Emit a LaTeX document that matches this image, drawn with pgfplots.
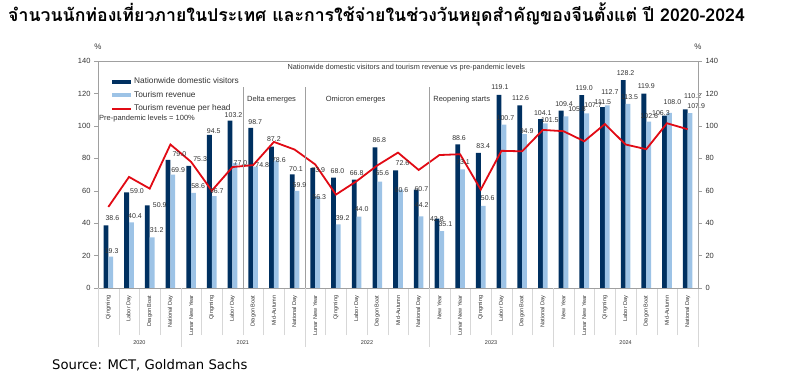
\documentclass[border=0pt]{standalone}
\usepackage{fontspec}
\setmainfont{Liberation Sans}
\newfontfamily\thaifont[Script=Thai]{Loma}
\newfontfamily\srcfont{DejaVu Sans}
\usepackage{pgfplots}
\usepackage{pgfplotstable}
\pgfplotsset{compat=1.18}
\definecolor{navy}{RGB}{0,48,96}
\definecolor{lightb}{RGB}{157,195,230}
\definecolor{redl}{RGB}{225,10,20}
\definecolor{axgray}{RGB}{160,160,160}
\definecolor{sepgray}{RGB}{215,215,215}
\definecolor{lbl}{RGB}{50,50,50}

% ddx, ddy, ldx, ldy: label offsets (pt) of the value labels
\pgfplotstableread{
x vis rev head ddx ddy ldx ldy
0 38.6 19.3 50.0 4 7 3.3 6
1 59.0 40.4 68.5 8 1 6 6.5
2 50.9 31.2 61.3 10 0 7 7
3 79.0 69.9 88.5 9 6 7.7 5
4 75.3 58.6 77.8 9 7 7 7
5 94.5 56.7 60.0 2 4 5 5
6 103.2 77.0 74.6 1 6 8 0
7 98.7 74.8 75.8 2 6 9 2
8 87.2 78.6 90.1 0 7.5 5 0
9 70.1 59.9 85.4 1.5 5 5 6
10 73.9 56.3 76.2 3 -2 4 0
11 68.0 39.2 57.6 1.5 7 6.7 6.5
12 66.8 44.0 65.9 0 6.7 5 7.5
13 86.8 65.6 75.6 2 7 5 8.5
14 72.6 60.6 83.5 4.5 7 3.5 0
15 60.7 44.2 72.8 2.7 0 3 11
16 42.8 35.1 82.0 -2.5 0 6 7
17 88.6 73.1 82.5 -1 6 3 7.5
18 83.4 50.6 60.7 2.5 7 7 8
19 119.1 100.7 84.6 -1.5 8 4 7
20 112.6 94.9 84.3 -1.5 7.5 4.5 3
21 104.1 101.5 97.5 0 6.6 7 3.5
22 109.4 105.8 96.7 0.5 6.7 13.5 7.5
23 119.0 107.7 90.5 0 7 9 8.4
24 111.5 112.7 101.1 -2 5.5 5 13.5
25 128.2 113.5 88.5 0 7 4 7
26 119.9 102.6 85.6 0 7 3 6
27 106.3 108.0 101.6 -6 3 5.5 10.5
28 110.2 107.9 97.9 5 13 8.5 7
}\data

\begin{document}
\begin{tikzpicture}
\useasboundingbox (0,0) rectangle (785pt,380pt);
\node[anchor=base west, inner sep=0] at (8pt,358pt) {\thaifont\bfseries\fontsize{17.7}{19}\selectfont จำนวนนักท่องเที่ยวภายในประเทศ และการใช้จ่ายในช่วงวันหยุดสำคัญของจีนตั้งแต่ ปี 2020-2024};
\node[anchor=west, inner sep=0] at (52pt,15pt) {\srcfont\fontsize{13.2}{15}\selectfont Source: MCT, Goldman Sachs};

\begin{axis}[
  at={(98pt,92pt)}, anchor=south west, scale only axis,
  width=600pt, height=227pt,
  xmin=-0.5, xmax=28.5, ymin=0, ymax=140,
  clip=false,
  /pgf/number format/assume math mode=true,
  axis line style={axgray},
  ytick={0,20,...,140},
  ytick pos=left,
  yticklabel style={font=\fontsize{7.5}{8}\selectfont, text=lbl},
  y tick style={axgray},
  major tick length=4pt,
  tick align=outside,
  xtick={0,...,28},
  xtick pos=bottom,
  x tick style={draw=none},
  xticklabels={Qingming, Labor Day, Dragon Boat, National Day, Lunar New Year, Qingming, Labor Day, Dragon Boat, Mid-Autumn, National Day, Lunar New Year, Qingming, Labor Day, Dragon Boat, Mid-Autumn, National Day, New Year, Lunar New Year, Qingming, Labor Day, Dragon Boat, National Day, New Year, Lunar New Year, Qingming, Labor Day, Dragon Boat, Mid-Autumn, National Day},
  xticklabel style={rotate=90, anchor=east, font=\fontsize{5.6}{6}\selectfont, text=lbl},
  minor xtick={0.5,1.5,...,27.5},
  minor x tick style={draw=sepgray},
  minor tick length=47pt,
  extra x ticks={-0.5,3.5,9.5,15.5,21.5,28.5},
  extra x tick labels={},
  extra x tick style={major tick length=59pt, x tick style={draw=sepgray}},
  legend style={at={(0.022,0.935)}, anchor=north west, draw=none, fill=none,
    font=\fontsize{8.3}{9}\selectfont, text=lbl, row sep=2pt, inner sep=0pt},
  legend cell align=left,
]
\addplot[ybar, bar width=4.8pt, bar shift=-2.4pt, fill=navy, draw=none,
  legend image code/.code={\fill[navy] (0pt,-2.2pt) rectangle (19pt,2.2pt);}]
  table[x=x, y=vis]{\data};
\addlegendentry{Nationwide domestic visitors}
\addplot[ybar, bar width=4.8pt, bar shift=2.4pt, fill=lightb, draw=none,
  legend image code/.code={\fill[lightb] (0pt,-2.2pt) rectangle (19pt,2.2pt);}]
  table[x=x, y=rev]{\data};
\addlegendentry{Tourism revenue}
\addplot[sharp plot, redl, line width=1.8pt, mark=none,
  legend image code/.code={\draw[redl, line width=1.8pt] (0pt,0pt)--(19pt,0pt);}]
  table[x=x, y=head]{\data};
\addlegendentry{Tourism revenue per head}

% value labels, drawn above all series
\addplot[ybar, bar width=4.8pt, bar shift=-2.4pt, draw=none, fill=none, forget plot,
  visualization depends on={\thisrow{ddx} \as \ddx},
  visualization depends on={\thisrow{ddy} \as \ddy},
  nodes near coords={\pgfmathprintnumber[fixed,fixed zerofill,precision=1]{\pgfplotspointmeta}},
  every node near coord/.append style={font=\fontsize{7}{8}\selectfont, text=lbl, inner sep=0pt, anchor=center, xshift=\ddx pt, yshift=\ddy pt}]
  table[x=x, y=vis]{\data};
\addplot[ybar, bar width=4.8pt, bar shift=2.4pt, draw=none, fill=none, forget plot,
  visualization depends on={\thisrow{ldx} \as \ldx},
  visualization depends on={\thisrow{ldy} \as \ldy},
  nodes near coords={\pgfmathprintnumber[fixed,fixed zerofill,precision=1]{\pgfplotspointmeta}},
  every node near coord/.append style={font=\fontsize{7}{8}\selectfont, text=lbl, inner sep=0pt, anchor=center, xshift=\ldx pt, yshift=\ldy pt}]
  table[x=x, y=rev]{\data};

\addplot[axgray, line width=0.6pt, forget plot] coordinates {(6.5,0) (6.5,124)};
\addplot[axgray, line width=0.6pt, forget plot] coordinates {(9.5,0) (9.5,124)};
\addplot[axgray, line width=0.6pt, forget plot] coordinates {(15.5,0) (15.5,124)};

\node[anchor=west, font=\fontsize{7.5}{8}\selectfont, text=lbl, inner sep=0] at (axis cs:6.7,116.5) {Delta emerges};
\node[anchor=west, font=\fontsize{7.5}{8}\selectfont, text=lbl, inner sep=0] at (axis cs:10.5,116.5) {Omicron emerges};
\node[anchor=west, font=\fontsize{7.5}{8}\selectfont, text=lbl, inner sep=0] at (axis cs:15.7,116.5) {Reopening starts};
\node[anchor=west, font=\fontsize{7.5}{8}\selectfont, text=lbl, inner sep=0] at (axis cs:-0.45,104.5) {Pre-pandemic levels = 100\%};
\node[font=\fontsize{7.3}{8}\selectfont, text=lbl, inner sep=0] at (axis cs:14.4,135.8) {Nationwide domestic visitors and tourism revenue vs pre-pandemic levels};
\node[font=\fontsize{8}{9}\selectfont, text=lbl, inner sep=0] at (axis cs:-0.5,149) {\%};

\node[font=\fontsize{5.5}{6}\selectfont, text=lbl, inner sep=0] at (axis cs:1.5,0) [yshift=-55pt] {2020};
\node[font=\fontsize{5.5}{6}\selectfont, text=lbl, inner sep=0] at (axis cs:6.5,0) [yshift=-55pt] {2021};
\node[font=\fontsize{5.5}{6}\selectfont, text=lbl, inner sep=0] at (axis cs:12.5,0) [yshift=-55pt] {2022};
\node[font=\fontsize{5.5}{6}\selectfont, text=lbl, inner sep=0] at (axis cs:18.5,0) [yshift=-55pt] {2023};
\node[font=\fontsize{5.5}{6}\selectfont, text=lbl, inner sep=0] at (axis cs:25,0) [yshift=-55pt] {2024};
\end{axis}

\begin{axis}[
  at={(98pt,92pt)}, anchor=south west, scale only axis,
  width=600pt, height=227pt,
  xmin=-0.5, xmax=28.5, ymin=0, ymax=140,
  clip=false,
  hide x axis,
  /pgf/number format/assume math mode=true,
  axis line style={axgray},
  ytick={0,20,...,140},
  ytick pos=right,
  yticklabel pos=right,
  yticklabel style={font=\fontsize{7.5}{8}\selectfont, text=lbl},
  y tick style={axgray},
  major tick length=4pt,
  tick align=outside,
]
\addplot[draw=none, forget plot] coordinates {(0,0)};
\node[font=\fontsize{8}{9}\selectfont, text=lbl, inner sep=0] at (axis cs:28.5,149) {\%};
\end{axis}
\draw[axgray] (98pt,319pt) -- (698pt,319pt);
\end{tikzpicture}
\end{document}
